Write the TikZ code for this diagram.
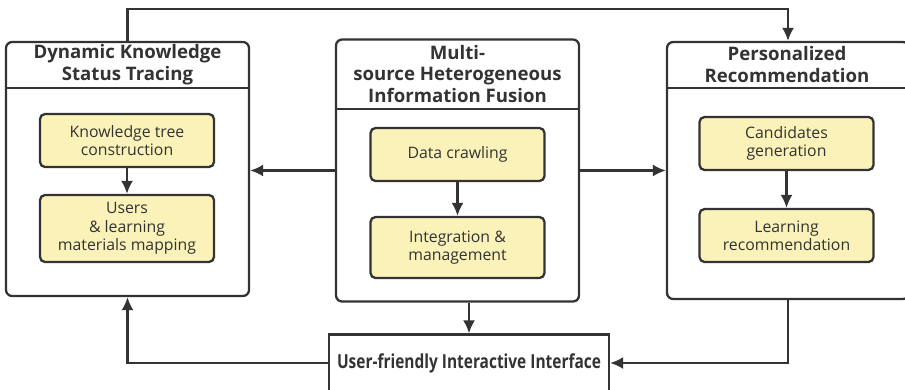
\documentclass[tikz,border=0pt]{standalone}
\usepackage{fontspec}
\setmainfont{Open Sans}
\newfontfamily\narrowsans[FakeStretch=0.8]{Open Sans}
\usetikzlibrary{arrows.meta}
\definecolor{linegray}{HTML}{333333}
\definecolor{taskyellow}{HTML}{FAF2B8}
\begin{document}
\begin{tikzpicture}[
        x=0.02cm, y=-0.02cm,
        color=linegray,
        line width=1.3pt,
        panel/.style={draw, rounded corners=1.2mm, inner sep=0pt},
        title/.style={font=\bfseries\fontsize{10.6}{12.5}\selectfont, align=center},
        task/.style={draw, fill=taskyellow, rounded corners=1mm, align=center,
            inner sep=0pt, minimum width=3.48cm, font=\fontsize{9}{10.5}\selectfont},
        link/.style={-{Latex[length=2.6mm,width=2.4mm]}}]
    \useasboundingbox (0,0) rectangle (905,389);
    \node[panel, minimum width=4.86cm, minimum height=5.08cm] (dkst) at (127.5,169) {};
    \node[title] (dkstT) at (127.5,64.5) {Dynamic Knowledge\\Status Tracing};
    \draw (dkst.west |- 0,88) -- (dkst.east |- 0,88);
    \node[task, minimum height=1.06cm] (ktc) at (127,140.5) {Knowledge tree\\construction};
    \node[task, minimum height=1.34cm] (ulm) at (127,228.5) {Users\\\& learning\\materials mapping};

    \node[panel, minimum width=4.86cm, minimum height=5.24cm] (mshif) at (457.5,170.5) {};
    \node[title] (mshifT) at (457.5,74) {Multi-\\source Heterogeneous\\Information Fusion};
    \draw (mshif.west |- 0,109) -- (mshif.east |- 0,109);
    \node[task, minimum height=1.06cm] (dc) at (457.5,154.5) {Data crawling};
    \node[task, minimum height=1.22cm] (im) at (457.5,247.5) {Integration \&\\management};

    \node[panel, minimum width=4.84cm, minimum height=5.14cm] (pr) at (788,170.5) {};
    \node[title] (prT) at (787,64.5) {Personalized\\Recommendation};
    \draw (pr.west |- 0,88) -- (pr.east |- 0,88);
    \node[task, minimum height=1.06cm] (cg) at (786.5,143.5) {Candidates\\generation};
    \node[task, minimum height=1.06cm] (lr) at (786.5,235.5) {Learning\\recommendation};

    \node[draw, inner sep=0pt, minimum width=5.6cm, minimum height=1.14cm,
        font=\narrowsans\bfseries\fontsize{11}{13}\selectfont] (ui) at (469,363) {User-friendly Interactive Interface};

    \draw[link] (ktc) -- (ulm);
    \draw[link] (dc) -- (im);
    \draw[link] (cg) -- (lr);
    \draw[link] (mshif.west) -- (mshif.west -| dkst.east);
    \draw[link] (mshif.east) -- (mshif.east -| pr.west);
    \draw[link] (dkst.north) -- ++(0,-32) -| (pr.north);
    \draw[link] (ui.north |- mshif.south) -- (ui.north);
    \draw[link] (ui.west) -| (dkst.south);
    \draw[link] (pr.south) |- (ui.east);
\end{tikzpicture}
\end{document}
